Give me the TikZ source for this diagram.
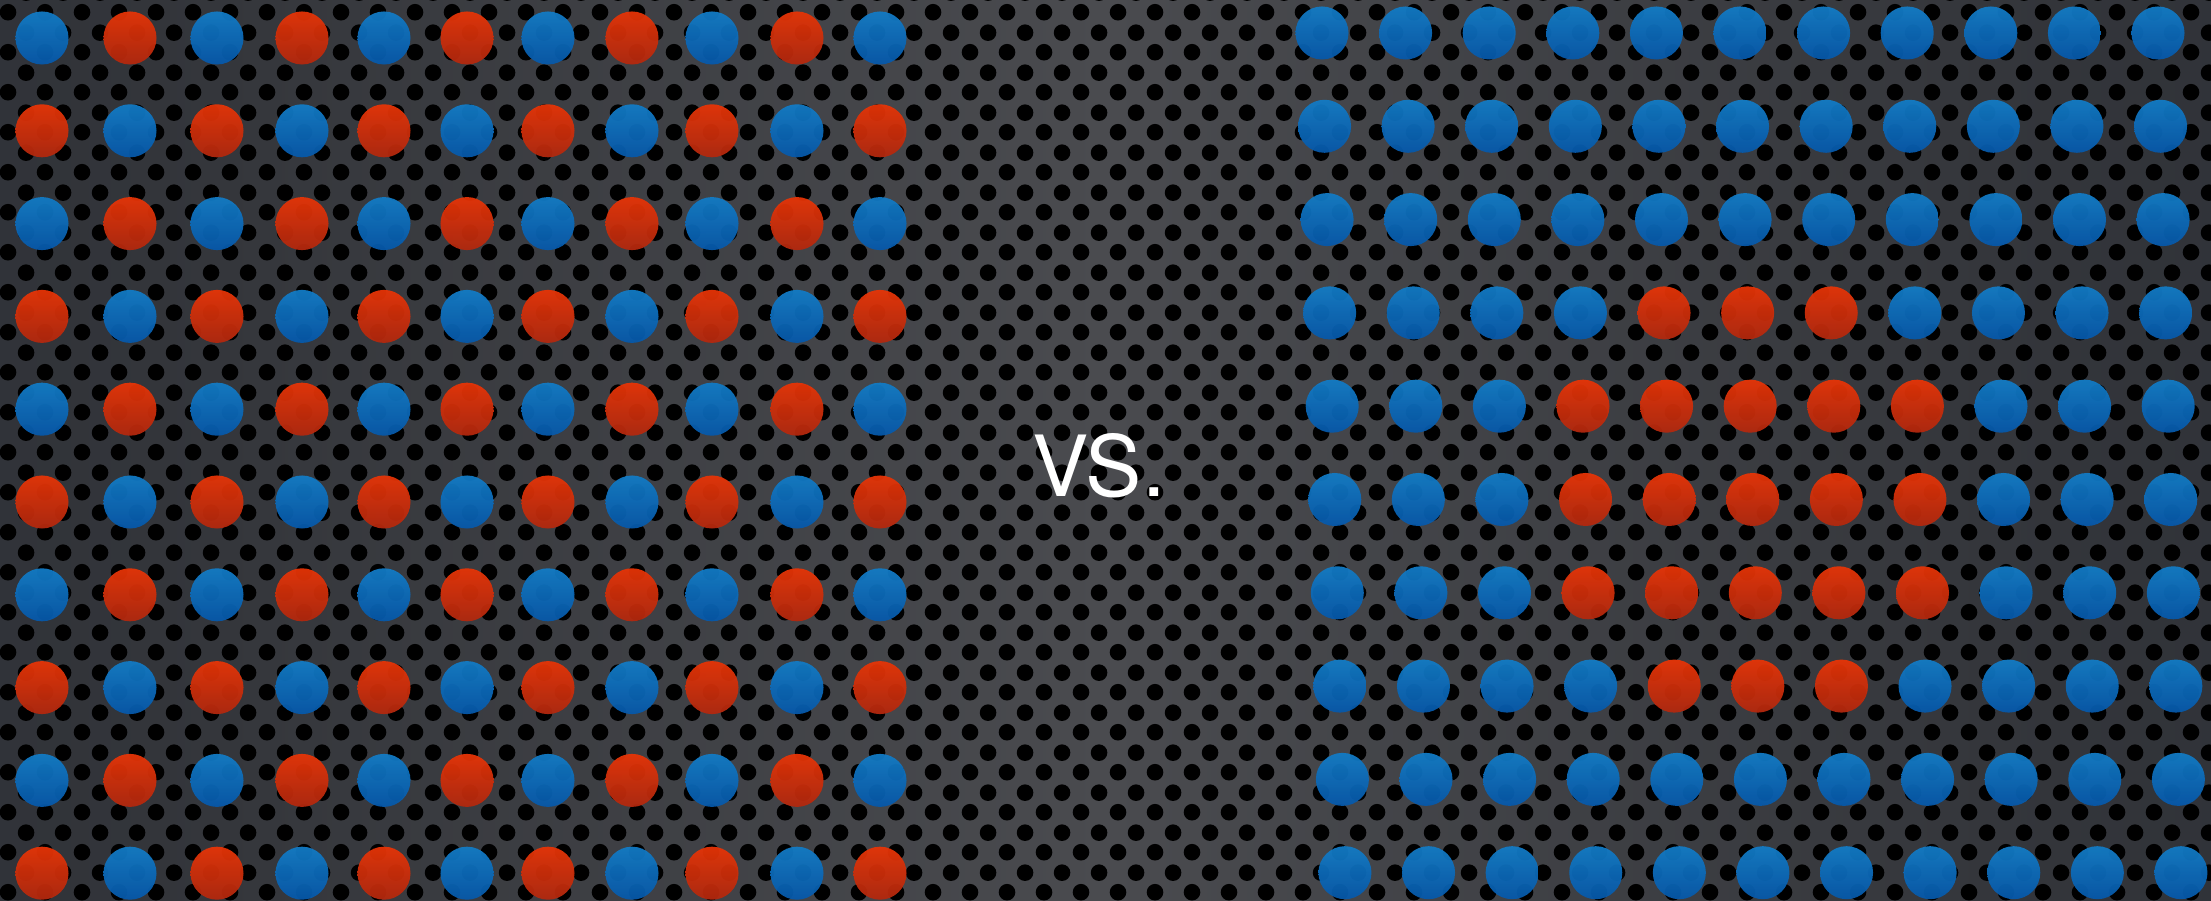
\documentclass[tikz,border=0pt]{standalone}
\usepackage{fontspec}
\newfontfamily\vsfont{TeX Gyre Heros}
\usetikzlibrary{patterns}
\definecolor{bgedge}{RGB}{30,36,44}
\definecolor{bgmid}{RGB}{52,54,59}
\definecolor{bgcenter}{RGB}{74,75,79}
\definecolor{bluetop}{RGB}{18,124,198}
\definecolor{bluebot}{RGB}{6,88,170}
\definecolor{redtop}{RGB}{232,52,6}
\definecolor{redbot}{RGB}{178,40,14}
\pgfdeclarehorizontalshading{perforated}{100bp}{color(0bp)=(bgedge); color(30bp)=(bgmid); color(50bp)=(bgcenter); color(70bp)=(bgmid); color(100bp)=(bgedge)}
\pgfdeclarepatternformonly{holes}{\pgfpoint{0cm}{0cm}}{\pgfpoint{0.37cm}{0.4cm}}{\pgfpoint{0.37cm}{0.4cm}}{
\pgfpathcircle{\pgfpoint{0.0925cm}{0.1cm}}{0.085cm}
\pgfpathcircle{\pgfpoint{0.2775cm}{0.3cm}}{0.085cm}
\pgfusepath{fill}}
\tikzstyle{dot} = [circle, 
minimum size=0.53cm, 
inner sep=0pt, 
opacity=0.94]
\tikzstyle{bluedot} = [dot, top color=bluetop, bottom color=bluebot]
\tikzstyle{reddot} = [dot, top color=redtop, bottom color=redbot]
\tikzstyle{vslabel} = [text=white, anchor=base, inner sep=0pt,
font=\vsfont\fontsize{24}{24}\selectfont]

\begin{document}
\begin{tikzpicture}[x=0.01cm, y=-0.01cm]
    \useasboundingbox (0,0) rectangle (2211,901);
    \shade[shading=perforated] (0,0) rectangle (2211,901);
    \fill[pattern=holes, pattern color=black] (0,0) rectangle (2211,901);

    % left: checkerboard
    \foreach \r in {1,...,10}{
        \foreach \xx [count=\c] in {42,130,217,302,384,467,548,632,712,797,880}{
            \pgfmathtruncatemacro{\s}{\r+\c}
            \ifodd\s \def\dotstyle{reddot}\else\def\dotstyle{bluedot}\fi
            \node (l\r-\c) [style=\dotstyle] at (\xx, {38+92.8*(\r-1)}) {};
        }
    }

    % right: blue with red cluster
    \foreach \r in {1,...,10}{
        \foreach \c in {1,...,11}{
            \pgfmathtruncatemacro{\edge}{(\r==4)||(\r==8)}
            \pgfmathtruncatemacro{\hot}{(\r>=4)*(\r<=8)*(\c>=4+\edge)*(\c<=8-\edge)}
            \ifnum\hot=1 \def\dotstyle{reddot}\else\def\dotstyle{bluedot}\fi
            \node (r\r-\c) [style=\dotstyle] at ({1322+83.6*(\c-1)+2.55*(\r-1)}, {33+93.3*(\r-1)}) {};
        }
    }

    \node (vs) [vslabel] at (1099,497) {VS.};
\end{tikzpicture}
\end{document}
